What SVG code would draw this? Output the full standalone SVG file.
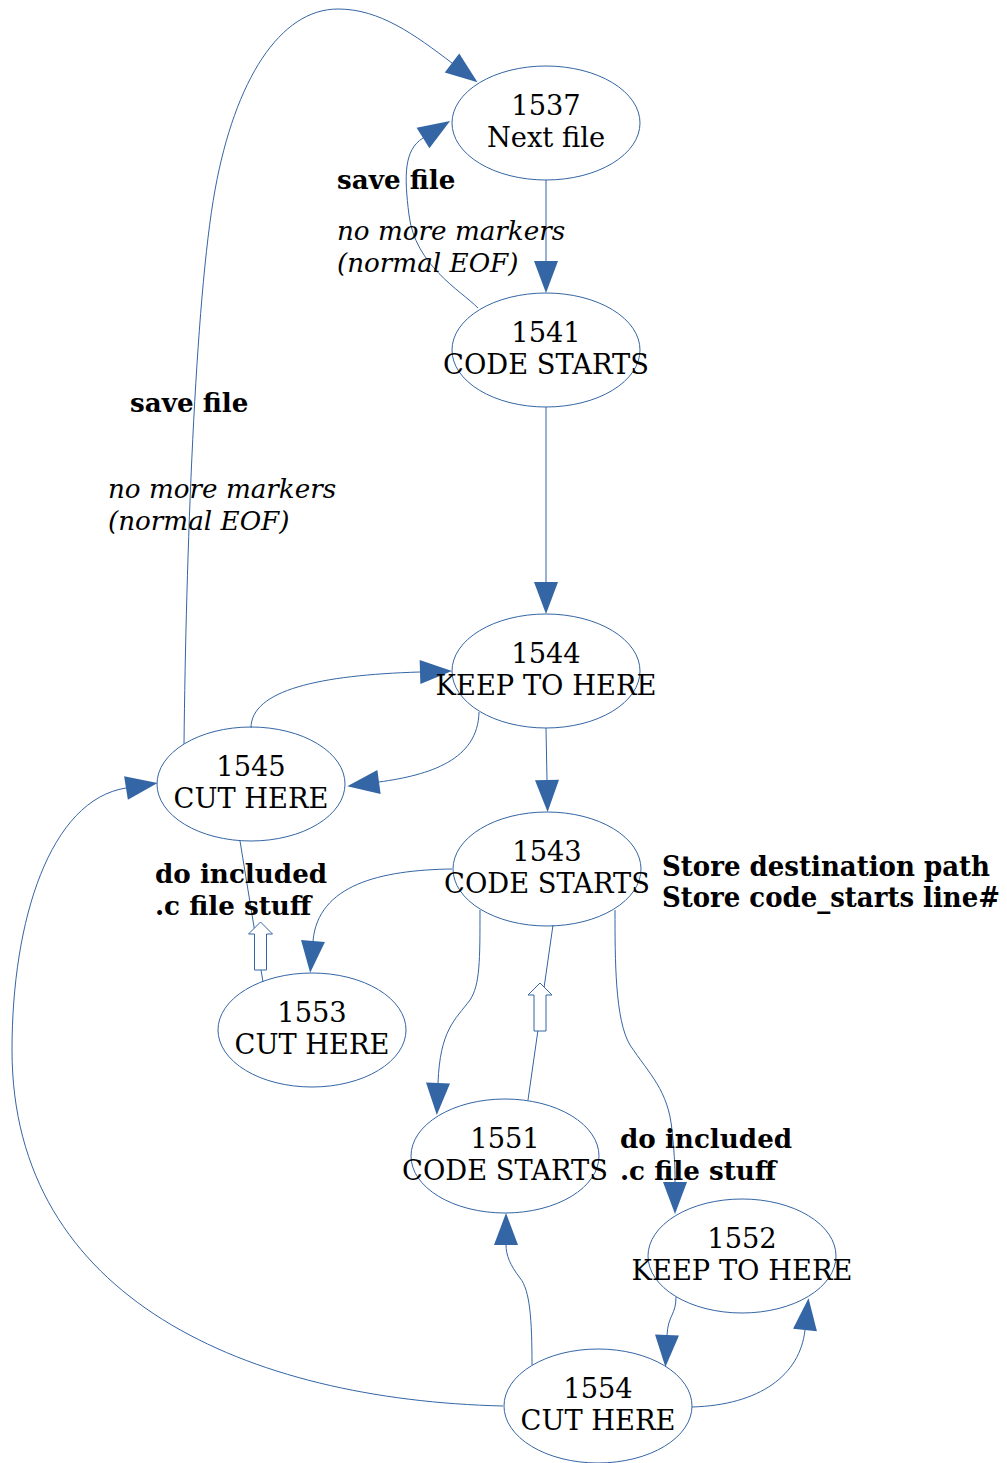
<svg xmlns="http://www.w3.org/2000/svg" width="1007" height="1463" viewBox="0 0 1007 1463">
<style>
.node ellipse{fill:none;stroke:#3465a4;stroke-width:1}
.node text{font-family:"DejaVu Serif",serif;font-size:27.3px;fill:#000;text-anchor:middle}
.edge{fill:none;stroke:#3465a4;stroke-width:1}
.hollow{fill:#fff;stroke:#3465a4;stroke-width:1}
.lb{font-family:"DejaVu Serif",serif;font-size:26.2px;font-weight:bold;fill:#000}
.li{font-family:"DejaVu Serif",serif;font-size:26.2px;font-style:italic;fill:#000}
</style>
<defs>
<marker id="ah" markerUnits="userSpaceOnUse" markerWidth="32" markerHeight="24" viewBox="0 0 32 24" refX="0" refY="12" orient="auto" overflow="visible">
<path d="M0,0 L32,12 L0,24 z" fill="#3465a4"/>
</marker>
</defs>
<rect width="1007" height="1463" fill="#fff"/>
<g id="edges">
<path class="edge" d="M546,180 L546,261" marker-end="url(#ah)"/>
<path class="edge" d="M546,407 L546,582" marker-end="url(#ah)"/>
<path class="edge" d="M546,728 L547,780" marker-end="url(#ah)"/>
<path class="edge" d="M478,308 C460,290 415,265 409,215 C404,175 404,150 423,138" marker-end="url(#ah)"/>
<path class="edge" d="M184,744 C186,560 195,300 215,190 C235,80 280,9 338,9 C380,9 415,35 452,63" marker-end="url(#ah)"/>
<path class="edge" d="M251,728 C251,690 320,675 420,672" marker-end="url(#ah)"/>
<path class="edge" d="M479,712 C478,760 430,775 379,782" marker-end="url(#ah)"/>
<path class="edge" d="M452,869 C380,870 318,885 313,941" marker-end="url(#ah)"/>
<path class="edge" d="M263,982 L240,841"/>
<polygon class="hollow" points="260.5,922 248.5,934 254.5,934 254.5,970 266.5,970 266.5,934 272.5,934"/>
<path class="edge" d="M480,910 C480,960 480,985 470,1000 C455,1020 440,1030 438,1083" marker-end="url(#ah)"/>
<path class="edge" d="M528,1100 L553,925"/>
<polygon class="hollow" points="540,983 528,995 534,995 534,1031 546,1031 546,995 552,995"/>
<path class="edge" d="M615,910 C615,960 615,1020 630,1045 C650,1075 668,1090 672,1130 C675,1160 675,1170 675,1182" marker-end="url(#ah)"/>
<path class="edge" d="M676,1297 C676,1315 668,1315 667,1335" marker-end="url(#ah)"/>
<path class="edge" d="M692,1407 C760,1405 800,1375 805,1330" marker-end="url(#ah)"/>
<path class="edge" d="M532,1365 C532,1320 530,1290 520,1278 C510,1265 506,1255 506,1245" marker-end="url(#ah)"/>
<path class="edge" d="M503,1406 C250,1400 12,1300 12,1050 C12,920 50,800 126,788" marker-end="url(#ah)"/>
<text class="lb" x="337" y="189">save file</text>
<text class="li" x="337" y="240">no more markers</text>
<text class="li" x="337" y="272">(normal EOF)</text>
<text class="lb" x="130" y="412">save file</text>
<text class="li" x="108" y="498">no more markers</text>
<text class="li" x="108" y="530">(normal EOF)</text>
<text class="lb" x="155" y="883">do included</text>
<text class="lb" x="155" y="915">.c file stuff</text>
<text class="lb" x="620" y="1148">do included</text>
<text class="lb" x="620" y="1180">.c file stuff</text>
</g>
<g id="n1537" class="node"><ellipse cx="546" cy="123" rx="94" ry="57"/><text x="546" y="115">1537</text><text x="546" y="147">Next file</text></g>
<g id="n1541" class="node"><ellipse cx="546" cy="350" rx="94" ry="57"/><text x="546" y="342">1541</text><text x="546" y="374">CODE STARTS</text></g>
<g id="n1544" class="node"><ellipse cx="546" cy="671" rx="94" ry="57"/><text x="546" y="663">1544</text><text x="546" y="695">KEEP TO HERE</text></g>
<g id="n1545" class="node"><ellipse cx="251" cy="784" rx="94" ry="57"/><text x="251" y="776">1545</text><text x="251" y="808">CUT HERE</text></g>
<g id="n1543" class="node"><ellipse cx="547" cy="869" rx="94" ry="57"/><text x="547" y="861">1543</text><text x="547" y="893">CODE STARTS</text>
<text class="lb" x="662" y="876" style="text-anchor:start" textLength="328" lengthAdjust="spacingAndGlyphs">Store destination path</text><text class="lb" x="662" y="907" style="text-anchor:start" textLength="338" lengthAdjust="spacingAndGlyphs">Store code_starts line#</text></g>
<g id="n1553" class="node"><ellipse cx="312" cy="1030" rx="94" ry="57"/><text x="312" y="1022">1553</text><text x="312" y="1054">CUT HERE</text></g>
<g id="n1551" class="node"><ellipse cx="505" cy="1156" rx="94" ry="57"/><text x="505" y="1148">1551</text><text x="505" y="1180">CODE STARTS</text></g>
<g id="n1552" class="node"><ellipse cx="742" cy="1256" rx="94" ry="57"/><text x="742" y="1248">1552</text><text x="742" y="1280">KEEP TO HERE</text></g>
<g id="n1554" class="node"><ellipse cx="598" cy="1406" rx="94" ry="57"/><text x="598" y="1398">1554</text><text x="598" y="1430">CUT HERE</text></g>
</svg>
